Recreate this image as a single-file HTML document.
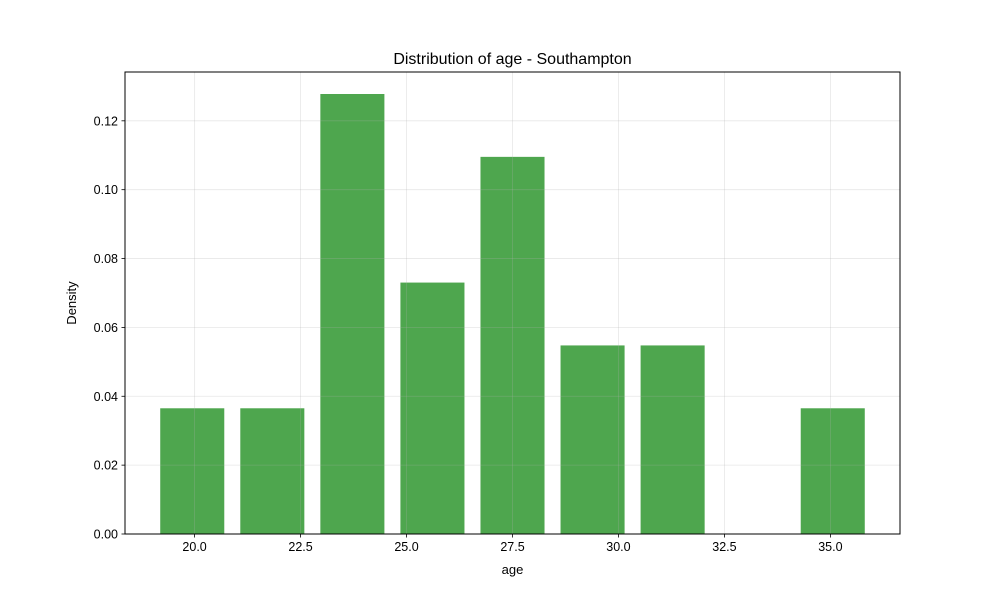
<!DOCTYPE html>
<html><head><meta charset="utf-8"><style>body{margin:0;background:#fff}svg{display:block;font-family:"Liberation Sans","DejaVu Sans",sans-serif}</style></head>
<body>
<svg id="chart" width="1000" height="600"></svg>
<script>
const binStart = 19, binEnd = 36;
const counts = [2,2,7,4,6,3,3,0,2];
const total = 29;
const xTicks = [20.0,22.5,25.0,27.5,30.0,32.5,35.0];
const yTicks = [0.00,0.02,0.04,0.06,0.08,0.10,0.12];
const L=125,R=900,T=72,B=534;
const nb=counts.length, w=(binEnd-binStart)/nb;
const dens=counts.map(c=>c/(total*w));
const bl=binStart+0.1*w, br=binEnd-0.1*w, m=(br-bl)*0.05;
const x0=bl-m,x1=br+m;
const ymax=Math.max(...dens)*1.05;
const X=v=>L+(v-x0)/(x1-x0)*(R-L);
const Y=v=>B-v/ymax*(B-T);
const svg=document.getElementById('chart');
const NS='http://www.w3.org/2000/svg';
function mk(t,a,p){const e=document.createElementNS(NS,t);for(const k in a)e.setAttribute(k,a[k]);(p||svg).appendChild(e);return e;}
const bars=mk('g',{});


dens.forEach((d,i)=>{const a=binStart+i*w+0.1*w,b=a+0.8*w;
const r=mk('rect',{x:X(a),y:Y(d),width:X(b)-X(a),height:B-Y(d),fill:'#4ea64e'},bars);

});
const grid=mk('g',{stroke:'#b0b0b0','stroke-opacity':0.3,'stroke-width':0.8});


xTicks.forEach(t=>mk('line',{x1:X(t),x2:X(t),y1:T,y2:B},grid));
yTicks.forEach(t=>mk('line',{x1:L,x2:R,y1:Y(t),y2:Y(t)},grid));
const fr=mk('rect',{x:L,y:T,width:R-L,height:B-T,fill:'none',stroke:'#000','stroke-width':1});


const xa=mk('g',{});


xTicks.forEach(t=>{mk('line',{x1:X(t),x2:X(t),y1:B,y2:B+3.5,stroke:'#000','stroke-width':0.8},xa);
const tx=mk('text',{x:X(t),y:B+17,'text-anchor':'middle','font-size':12.5},xa);tx.textContent=t.toFixed(1);});
const ya=mk('g',{});


yTicks.forEach(t=>{mk('line',{x1:L-3.5,x2:L,y1:Y(t),y2:Y(t),stroke:'#000','stroke-width':0.8},ya);
const tx=mk('text',{x:L-7,y:Y(t)+4.5,'text-anchor':'end','font-size':12.5},ya);tx.textContent=t.toFixed(2);});
const xt=mk('text',{x:(L+R)/2,y:574,'text-anchor':'middle','font-size':13});xt.textContent='age';


const yt=mk('text',{x:76,y:(T+B)/2,'text-anchor':'middle','font-size':13,transform:'rotate(-90 76 '+(T+B)/2+')'});yt.textContent='Density';


const ti=mk('text',{x:(L+R)/2,y:64,'text-anchor':'middle','font-size':16});ti.textContent='Distribution of age - Southampton';


</script>
</body></html>
